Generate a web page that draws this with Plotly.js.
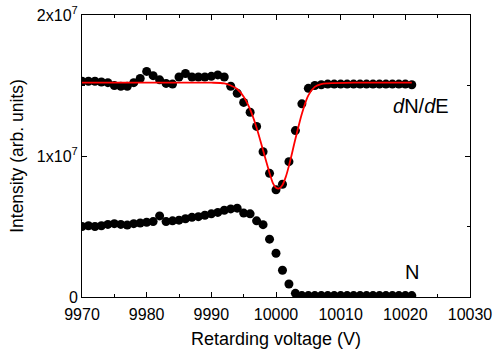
<!DOCTYPE html>
<html>
<head>
<meta charset="utf-8">
<script src="https://cdn.plot.ly/plotly-3.0.1.min.js"></script>
<style>html,body{margin:0;padding:0;background:#fff;}#chart{width:494px;height:351px;}</style>
</head>
<body>
<div id="chart"></div>
<script>
// Retarding voltage (V) for measured points
var voltage = [9970,9971,9972,9973,9974,9975,9976,9977,9978,9979,
  9980,9981,9982,9983,9984,9985,9986,9987,9988,9989,
  9990,9991,9992,9993,9994,9995,9996,9997,9998,9999,
  10000,10001,10002,10003,10004,10005,10006,10007,10008,10009,
  10010,10011,10012,10013,10014,10015,10016,10017,10018,10019,
  10020,10021];
// dN/dE intensity (x1e6)
var dNdE = [15.3,15.3,15.3,15.25,15.2,15.0,14.95,14.95,15.2,15.5,
  16.0,15.7,15.4,15.15,15.1,15.6,15.85,15.6,15.6,15.6,
  15.65,15.75,15.6,14.95,14.45,13.8,13.1,12.1,10.3,8.77,
  7.6,8.0,9.6,11.8,13.7,14.8,15.0,15.05,15.1,15.1,
  15.1,15.1,15.1,15.1,15.1,15.1,15.1,15.1,15.1,15.1,
  15.1,15.05];
// N intensity (x1e6)
var Nint = [5.0,5.05,5.0,5.05,5.15,5.2,5.15,5.1,5.2,5.25,
  5.3,5.35,5.75,5.35,5.4,5.45,5.55,5.65,5.7,5.8,
  5.9,6.0,6.15,6.25,6.3,5.95,5.9,5.4,5.13,4.1,
  3.1,1.9,0.92,0.26,0.1,0.1,0.1,0.1,0.1,0.1,
  0.1,0.1,0.1,0.1,0.1,0.1,0.1,0.1,0.1,0.1,
  0.1,0.1];
// Fit curve (x1e6)
var fitV = [9970,9980,9990,9992,9993,9994,9995,9996,9997,9998,9999,9999.5,10000,10000.5,10001,10001.5,10002,10003,10004,10005,10006,10007,10008,10012,10021];
var fitI = [15.2,15.2,15.2,15.15,15.0,14.75,14.2,13.3,12.0,10.4,8.8,8.1,7.75,7.7,7.95,8.5,9.3,11.2,13.0,14.3,14.9,15.1,15.15,15.2,15.2];

var xTicks = [9970,9980,9990,10000,10010,10020,10030];
var yTickVals = [0,1e7,2e7];
var yTickText = ['0','1x10<sup>7</sup>','2x10<sup>7</sup>'];

function scale(a){return a.map(function(v){return v*1e6;});}

var markerStyle = {color:'#000', size:9, line:{width:0}};
var traces = [
  {x:voltage, y:scale(dNdE), mode:'markers', type:'scatter', marker:markerStyle, hoverinfo:'skip'},
  {x:voltage, y:scale(Nint), mode:'markers', type:'scatter', marker:markerStyle, hoverinfo:'skip'},
  {x:fitV, y:scale(fitI), mode:'lines', type:'scatter', line:{color:'#ff0000', width:1.8, shape:'spline', smoothing:0.8}, hoverinfo:'skip'}
];

var font = {family:'"Liberation Sans", Arial, sans-serif', color:'#000', size:16};
var layout = {
  width:494, height:351,
  margin:{l:82, r:24, t:15, b:54},
  paper_bgcolor:'#fff', plot_bgcolor:'#fff',
  showlegend:false,
  font:font,
  xaxis:{
    range:[9970,10030], tickvals:xTicks, ticktext:xTicks.map(String),
    ticks:'inside', ticklen:5, tickwidth:1, tickcolor:'#000',
    minor:{dtick:5, tick0:9970, ticks:'inside', ticklen:3, tickcolor:'#000', showgrid:false},
    showline:true, linecolor:'#000', linewidth:1, mirror:'ticks',
    showgrid:false, zeroline:false,
    tickfont:{size:16}, ticklabelstandoff:3,
    title:{text:'Retarding voltage (V)', font:{size:18}, standoff:10}
  },
  yaxis:{
    range:[0,2e7], tickvals:yTickVals, ticktext:yTickText,
    ticks:'inside', ticklen:5, tickwidth:1, tickcolor:'#000',
    minor:{dtick:5e6, tick0:0, ticks:'inside', ticklen:3, tickcolor:'#000', showgrid:false},
    showline:true, linecolor:'#000', linewidth:1, mirror:'ticks',
    showgrid:false, zeroline:false,
    tickfont:{size:16},
    title:{text:'Intensity (arb. units)', font:{size:17.5}, standoff:8}
  },
  annotations:[
    {x:10022.4, y:13.55e6, xref:'x', yref:'y', text:'<i>d</i>N/<i>d</i>E', showarrow:false, font:{size:20}},
    {x:10021, y:1.74e6, xref:'x', yref:'y', text:'N', showarrow:false, font:{size:20}}
  ]
};
Plotly.newPlot('chart', traces, layout, {staticPlot:true, displayModeBar:false});
</script>
</body>
</html>
